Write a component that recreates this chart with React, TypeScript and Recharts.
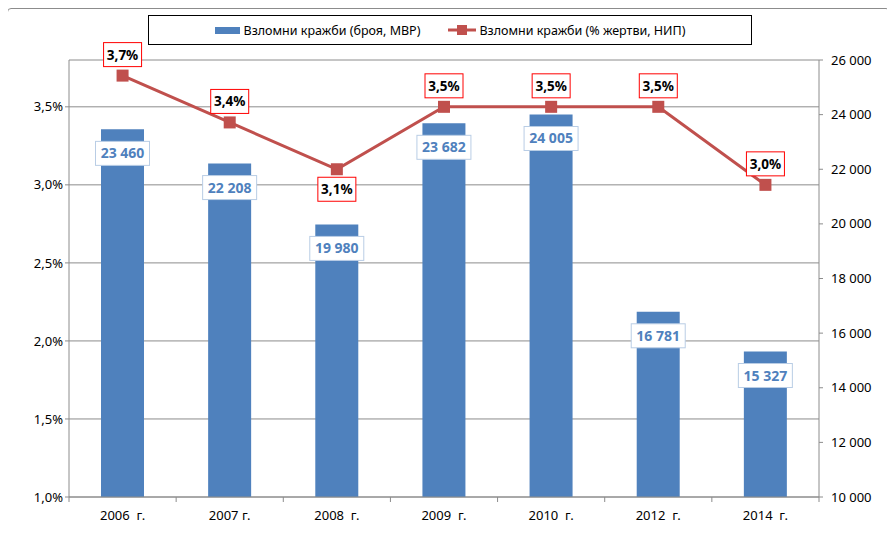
import { ComposedChart, Bar, Line, XAxis, YAxis, CartesianGrid, LabelList } from "recharts";

const years = ["2006\u00a0 г.", "2007 г.", "2008\u00a0 г.", "2009\u00a0 г.", "2010\u00a0 г.", "2012\u00a0 г.", "2014\u00a0 г."];
const burglaryCount = [23460, 22208, 19980, 23682, 24005, 16781, 15327];
const victimsPercent = [3.7, 3.4, 3.1, 3.5, 3.5, 3.5, 3.0];
const percentTicks = [1.0, 1.5, 2.0, 2.5, 3.0, 3.5];
const countTicks = [10000, 12000, 14000, 16000, 18000, 20000, 22000, 24000, 26000];

const barName = "Взломни кражби (броя, МВР)";
const lineName = "Взломни кражби (% жертви, НИП)";

const data = years.map((year, i) => ({
  year,
  count: burglaryCount[i],
  pct: victimsPercent[i],
}));

const FONT = "'Noto Sans', sans-serif";
const BLUE = "#4F81BD";
const RED = "#C0504D";
const GRID = "#8c8c8c";

const W = 895;
const H = 537;
const PLOT_LEFT = 69;
const PLOT_RIGHT = 819;

const fmtPct = (v: number) => v.toFixed(1).replace(".", ",") + "%";
const fmtCount = (v: number) => v.toLocaleString("en-US").replace(/,/g, "\u00a0");

const CategoryTick = (props: any) => {
  const { x, y, payload } = props;
  const step = (PLOT_RIGHT - PLOT_LEFT) / years.length;
  return (
    <g>
      <line x1={x - step / 2} x2={x - step / 2} y1={y - 8} y2={y - 3} stroke={GRID} />
      {props.index === years.length - 1 && (
        <line x1={x + step / 2} x2={x + step / 2} y1={y - 8} y2={y - 3} stroke={GRID} />
      )}
      <text x={x} y={y + 15} textAnchor="middle" fontFamily={FONT} fontSize={13} fill="#000">
        {payload.value}
      </text>
    </g>
  );
};

const PctLabel = (props: any) => {
  const { x, y, value, index } = props;
  const below = index === 2;
  const cy = below ? y + 20 : y - 21;
  const w = 38;
  const h = 24;
  return (
    <g>
      <rect x={x - w / 2} y={cy - h / 2} width={w} height={h} fill="#fff" stroke="#FF0000" strokeWidth={1} />
      <text x={x} y={cy + 5} textAnchor="middle" fontFamily={FONT} fontSize={13.5} fontWeight="bold" fill="#000">
        {fmtPct(value)}
      </text>
    </g>
  );
};

const CountLabel = (props: any) => {
  const { x, y, width, value } = props;
  const cx = x + width / 2;
  const cy = y + 24;
  const w = 54;
  const h = 24;
  return (
    <g>
      <rect x={cx - w / 2} y={cy - h / 2} width={w} height={h} fill="#fff" stroke="#B9CDE5" strokeWidth={1} />
      <text x={cx} y={cy + 5} textAnchor="middle" fontFamily={FONT} fontSize={14} fontWeight="bold" fill={BLUE}>
        {fmtCount(value)}
      </text>
    </g>
  );
};

const LegendBox = () => (
  <div
    style={{
      position: "absolute",
      left: 148,
      top: 15,
      width: 602,
      height: 28,
      border: "1px solid #000",
      background: "#fff",
      display: "flex",
      alignItems: "center",
      justifyContent: "center",
      fontFamily: FONT,
      fontSize: 12.5,
      color: "#000",
      gap: 28,
      zIndex: 2,
    }}
  >
    <span style={{ display: "flex", alignItems: "center" }}>
      <span style={{ display: "inline-block", width: 25, height: 7, background: BLUE, marginRight: 4 }} />
      {barName}
    </span>
    <span style={{ display: "flex", alignItems: "center" }}>
      <svg width={28} height={10} style={{ marginRight: 3 }}>
        <line x1={0} x2={28} y1={5} y2={5} stroke={RED} strokeWidth={3} />
        <rect x={9} y={0} width={10} height={10} fill={RED} />
      </svg>
      {lineName}
    </span>
  </div>
);

export default function App() {
  return (
    <div style={{ position: "relative", width: W, height: H, margin: -8, background: "#fff", overflow: "hidden" }}>
      <div
        style={{
          position: "absolute",
          left: 7,
          top: 8,
          width: 881,
          height: 560,
          border: "1px solid #8c8c8c",
          borderRadius: 4,
        }}
      />
      <LegendBox />
      <ComposedChart
        width={W}
        height={H}
        data={data}
        margin={{ top: 60, right: 0, bottom: 0, left: 0 }}
        style={{ position: "absolute", left: 0, top: 0 }}
      >
        <CartesianGrid yAxisId="left" vertical={false} stroke={GRID} />
        <XAxis
          dataKey="year"
          height={40}
          interval={0}
          axisLine={{ stroke: GRID }}
          tickLine={false}
          tick={<CategoryTick />}
        />
        <YAxis
          yAxisId="left"
          orientation="left"
          width={69}
          domain={[1, 3.8]}
          ticks={percentTicks}
          tickFormatter={fmtPct}
          axisLine={{ stroke: GRID }}
          tickLine={{ stroke: GRID }}
          tickSize={4}
          tick={{ fontFamily: FONT, fontSize: 13, fill: "#000" }}
        />
        <YAxis
          yAxisId="right"
          orientation="right"
          width={76}
          domain={[10000, 26000]}
          ticks={countTicks}
          tickFormatter={fmtCount}
          axisLine={{ stroke: GRID }}
          tickLine={{ stroke: GRID }}
          tickSize={4}
          tick={{ fontFamily: FONT, fontSize: 13, fill: "#000", textAnchor: "start", dx: 6 }}
        />
        <Bar yAxisId="right" dataKey="count" name={barName} fill={BLUE} barSize={43} isAnimationActive={false}>
          <LabelList dataKey="count" content={<CountLabel />} />
        </Bar>
        <Line
          yAxisId="left"
          dataKey="pct"
          name={lineName}
          stroke={RED}
          strokeWidth={3}
          type="linear"
          dot={(p: any) => <rect key={p.index} x={p.cx - 6} y={p.cy - 6} width={12} height={12} fill={RED} />}
          activeDot={false}
          isAnimationActive={false}
        >
          <LabelList dataKey="pct" content={<PctLabel />} />
        </Line>
      </ComposedChart>
    </div>
  );
}
